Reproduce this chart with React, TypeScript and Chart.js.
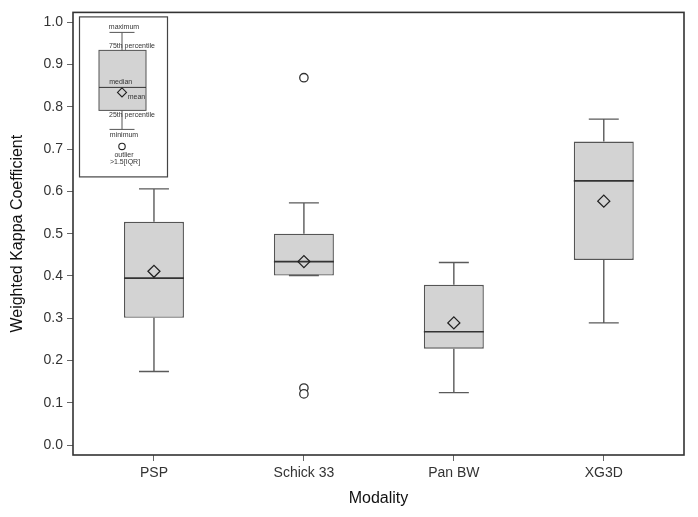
import { useEffect, useRef } from 'react';
import { Chart, registerables } from 'chart.js';

Chart.register(...registerables);

// Weighted kappa summary per imaging modality
const categories = ['PSP', 'Schick 33', 'Pan BW', 'XG3D'];
const whiskerLow = [0.174, 0.401, 0.124, 0.289];
const q1 = [0.301, 0.401, 0.228, 0.438];
const median = [0.395, 0.434, 0.268, 0.625];
const q3 = [0.528, 0.5, 0.379, 0.718];
const whiskerHigh = [0.606, 0.573, 0.432, 0.771];
const means = [0.411, 0.434, 0.289, 0.577];
const outlierCategory = ['Schick 33', 'Schick 33', 'Schick 33'];
const outlierValues = [0.869, 0.135, 0.121];
const yTicks = [0, 0.1, 0.2, 0.3, 0.4, 0.5, 0.6, 0.7, 0.8, 0.9, 1.0];

const FONT = "'Liberation Sans', Arial, Helvetica, sans-serif";

// Whiskers, caps and median lines, drawn right after the boxes
const whiskerPlugin = {
  id: 'whiskers',
  afterDatasetDraw(chart: any, args: any) {
    if (args.index !== 0) return;
    const { ctx } = chart;
    const y = chart.scales.y;
    const meta = chart.getDatasetMeta(0);
    ctx.save();
    categories.forEach((_, i) => {
      const bar = meta.data[i];
      if (!bar) return;
      const { x: cx, width } = bar.getProps(['x', 'width'], true);
      const half = width / 2;
      const cap = half / 2;
      const yLo = y.getPixelForValue(whiskerLow[i]);
      const yQ1 = y.getPixelForValue(q1[i]);
      const yMed = y.getPixelForValue(median[i]);
      const yQ3 = y.getPixelForValue(q3[i]);
      const yHi = y.getPixelForValue(whiskerHigh[i]);

      ctx.strokeStyle = '#5a5a5a';
      ctx.lineWidth = 1.4;
      ctx.beginPath();
      ctx.moveTo(cx, yQ3);
      ctx.lineTo(cx, yHi);
      ctx.moveTo(cx - cap, yHi);
      ctx.lineTo(cx + cap, yHi);
      ctx.moveTo(cx, yQ1);
      ctx.lineTo(cx, yLo);
      ctx.moveTo(cx - cap, yLo);
      ctx.lineTo(cx + cap, yLo);
      ctx.stroke();

      ctx.strokeStyle = '#333';
      ctx.lineWidth = 1.6;
      ctx.beginPath();
      ctx.moveTo(cx - half, yMed);
      ctx.lineTo(cx + half, yMed);
      ctx.stroke();
    });
    ctx.restore();
  },
};

// Plot frame plus the small key explaining the box elements
const framePlugin = {
  id: 'frameAndKey',
  afterDraw(chart: any) {
    const { ctx, chartArea } = chart;
    const { left, top, right, bottom } = chartArea;
    ctx.save();
    ctx.strokeStyle = '#333';
    ctx.lineWidth = 1.6;
    ctx.strokeRect(left, top, right - left, bottom - top);

    const ox = left;
    const oy = top;
    const cx = ox + 49;
    ctx.lineWidth = 1.2;
    ctx.strokeStyle = '#444';
    ctx.strokeRect(ox + 6.5, oy + 4.5, 88, 160);

    // key box
    ctx.fillStyle = '#d3d3d3';
    ctx.fillRect(cx - 23, oy + 38, 47, 60);
    ctx.strokeStyle = '#555';
    ctx.lineWidth = 1;
    ctx.strokeRect(cx - 23, oy + 38, 47, 60);
    ctx.beginPath();
    ctx.moveTo(cx, oy + 38);
    ctx.lineTo(cx, oy + 20);
    ctx.moveTo(cx - 12.5, oy + 20);
    ctx.lineTo(cx + 12.5, oy + 20);
    ctx.moveTo(cx, oy + 98);
    ctx.lineTo(cx, oy + 117);
    ctx.moveTo(cx - 12.5, oy + 117);
    ctx.lineTo(cx + 12.5, oy + 117);
    ctx.stroke();
    ctx.strokeStyle = '#333';
    ctx.beginPath();
    ctx.moveTo(cx - 23, oy + 75);
    ctx.lineTo(cx + 24, oy + 75);
    ctx.stroke();

    // key mean diamond
    ctx.strokeStyle = '#222';
    ctx.lineWidth = 1.1;
    ctx.beginPath();
    ctx.moveTo(cx, oy + 75.5);
    ctx.lineTo(cx + 4.5, oy + 80);
    ctx.lineTo(cx, oy + 84.5);
    ctx.lineTo(cx - 4.5, oy + 80);
    ctx.closePath();
    ctx.stroke();

    // key outlier circle
    ctx.beginPath();
    ctx.arc(cx, oy + 134, 3.2, 0, Math.PI * 2);
    ctx.stroke();

    ctx.fillStyle = '#333';
    ctx.font = `7px ${FONT}`;
    ctx.textBaseline = 'middle';
    ctx.textAlign = 'center';
    ctx.fillText('maximum', ox + 51, oy + 14.7);
    ctx.fillText('median', ox + 47.7, oy + 69.7);
    ctx.fillText('minimum', ox + 51, oy + 123);
    ctx.fillText('outlier', ox + 51, oy + 142.3);
    ctx.fillText('>1.5[IQR]', ox + 52, oy + 150);
    ctx.textAlign = 'left';
    ctx.fillText('75th percentile', ox + 36, oy + 33.3);
    ctx.fillText('mean', ox + 54.7, oy + 84.3);
    ctx.fillText('25th percentile', ox + 36, oy + 103);
    ctx.restore();
  },
};

export default function App() {
  const canvasRef = useRef<HTMLCanvasElement | null>(null);

  useEffect(() => {
    if (!canvasRef.current) return;
    Chart.defaults.font.family = FONT;

    const boxData = categories.map((_, i) => ({ x: i + 1, y: [q1[i], q3[i]] }));
    const meanData = categories.map((_, i) => ({ x: i + 1, y: means[i] }));
    const outlierData = outlierValues.map((v, i) => ({
      x: categories.indexOf(outlierCategory[i]) + 1,
      y: v,
    }));

    const chart = new Chart(canvasRef.current, {
      type: 'bar',
      data: {
        datasets: [
          {
            type: 'bar',
            label: 'IQR',
            data: boxData as any,
            backgroundColor: '#d3d3d3',
            borderColor: '#555',
            borderWidth: 1.4,
            borderSkipped: false,
            barPercentage: 0.4,
            categoryPercentage: 1,
            order: 3,
          },
          {
            type: 'line',
            label: 'Mean',
            data: meanData as any,
            showLine: false,
            pointStyle: 'rectRot',
            pointRadius: 6,
            pointBackgroundColor: 'rgba(0,0,0,0)',
            pointBorderColor: '#222',
            pointBorderWidth: 1.3,
            order: 1,
          },
          {
            type: 'line',
            label: 'Outlier',
            data: outlierData as any,
            showLine: false,
            pointStyle: 'circle',
            pointRadius: 4.2,
            pointBackgroundColor: '#fff',
            pointBorderColor: '#333',
            pointBorderWidth: 1.3,
            order: 2,
          },
        ],
      },
      options: {
        animation: false,
        responsive: false,
        devicePixelRatio: 1,
        layout: { padding: { top: 9, right: 14, left: 0, bottom: 0 } },
        plugins: {
          legend: { display: false },
          tooltip: { enabled: false },
        },
        scales: {
          x: {
            type: 'linear',
            min: 0.46,
            max: 4.535,
            offset: false,
            afterBuildTicks: (scale: any) => {
              scale.ticks = categories.map((_, i) => ({ value: i + 1 }));
            },
            afterFit: (scale: any) => {
              scale.height = 62;
            },
            grid: {
              display: true,
              offset: false,
              drawOnChartArea: false,
              drawTicks: true,
              tickLength: 6,
              color: '#666',
              lineWidth: 1,
            },
            border: { display: false },
            ticks: {
              autoSkip: false,
              maxRotation: 0,
              padding: 4,
              color: '#333',
              font: { size: 14 },
              callback: (value: any) => categories[Number(value) - 1] ?? '',
            },
            title: {
              display: true,
              text: 'Modality',
              color: '#111',
              font: { size: 16 },
              padding: { top: 0, bottom: 9 },
            },
          },
          y: {
            type: 'linear',
            min: -0.0235,
            max: 1.0235,
            afterBuildTicks: (scale: any) => {
              scale.ticks = yTicks.map((v) => ({ value: v }));
            },
            afterFit: (scale: any) => {
              scale.width = 73;
            },
            grid: {
              display: true,
              drawOnChartArea: false,
              drawTicks: true,
              tickLength: 6,
              color: '#666',
              lineWidth: 1,
            },
            border: { display: false },
            ticks: {
              padding: 4,
              color: '#333',
              font: { size: 14 },
              callback: (value: any) => Number(value).toFixed(1),
            },
            title: {
              display: true,
              text: 'Weighted Kappa Coefficient',
              color: '#111',
              font: { size: 16 },
              padding: { top: 8, bottom: 0 },
            },
          },
        },
      },
      plugins: [whiskerPlugin, framePlugin],
    });

    return () => chart.destroy();
  }, []);

  return (
    <div style={{ position: 'absolute', left: 0, top: 0, width: 698, height: 517, background: '#fff' }}>
      <canvas ref={canvasRef} width={698} height={517} style={{ display: 'block' }} />
    </div>
  );
}
